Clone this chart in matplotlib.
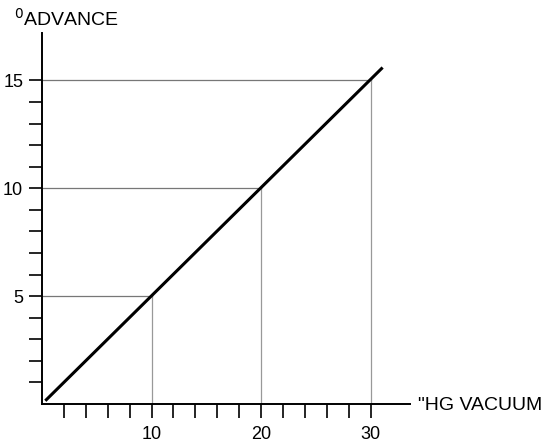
import matplotlib.pyplot as plt

plt.rcParams['font.family'] = ['Liberation Sans', 'DejaVu Sans']

# data
line_x = [0.3, 31.1]
line_y = [0.15, 15.6]
ref_x = [10, 20, 30]
ref_y = [5, 10, 15]
x_ticks = list(range(2, 31, 2))
y_ticks = list(range(1, 16))
x_labels = ['10', '20', '30']
y_labels = ['5', '10', '15']

fig = plt.figure(figsize=(5.45, 4.44), dpi=100)
ax = fig.add_axes([42 / 545, 40 / 444, (410 - 42) / 545, (404 - 33) / 444])
ax.set_xlim(0, 33.6)
ax.set_ylim(0, 17.2)

# guide lines to the axes
for xv, yv in zip(ref_x, ref_y):
    ax.plot([0, xv], [yv, yv], color='#777777', lw=0.9)
    ax.plot([xv, xv], [0, yv], color='#999999', lw=0.9)

ax.plot(line_x, line_y, color='black', lw=2.2, solid_capstyle='butt')

for s in ['top', 'right']:
    ax.spines[s].set_visible(False)
for s in ['left', 'bottom']:
    ax.spines[s].set_linewidth(1.4)

ax.set_xticks(x_ticks)
ax.set_xticklabels([str(t) if str(t) in x_labels else '' for t in x_ticks], fontsize=13)
ax.set_yticks(y_ticks)
ax.set_yticklabels([str(t) if str(t) in y_labels else '' for t in y_ticks], fontsize=13)
ax.tick_params(axis='x', direction='out', length=10, width=1.2, pad=6)
ax.tick_params(axis='y', direction='out', length=9.5, width=1.2, pad=4)

fig.text(14 / 545, 1 - 26 / 444, r'$^{0}$ADVANCE', fontsize=14, ha='left', va='baseline')
fig.text(418 / 545, 1 - 410 / 444, '"HG VACUUM', fontsize=14, ha='left', va='baseline')

fig.savefig('out.png', dpi=100)
